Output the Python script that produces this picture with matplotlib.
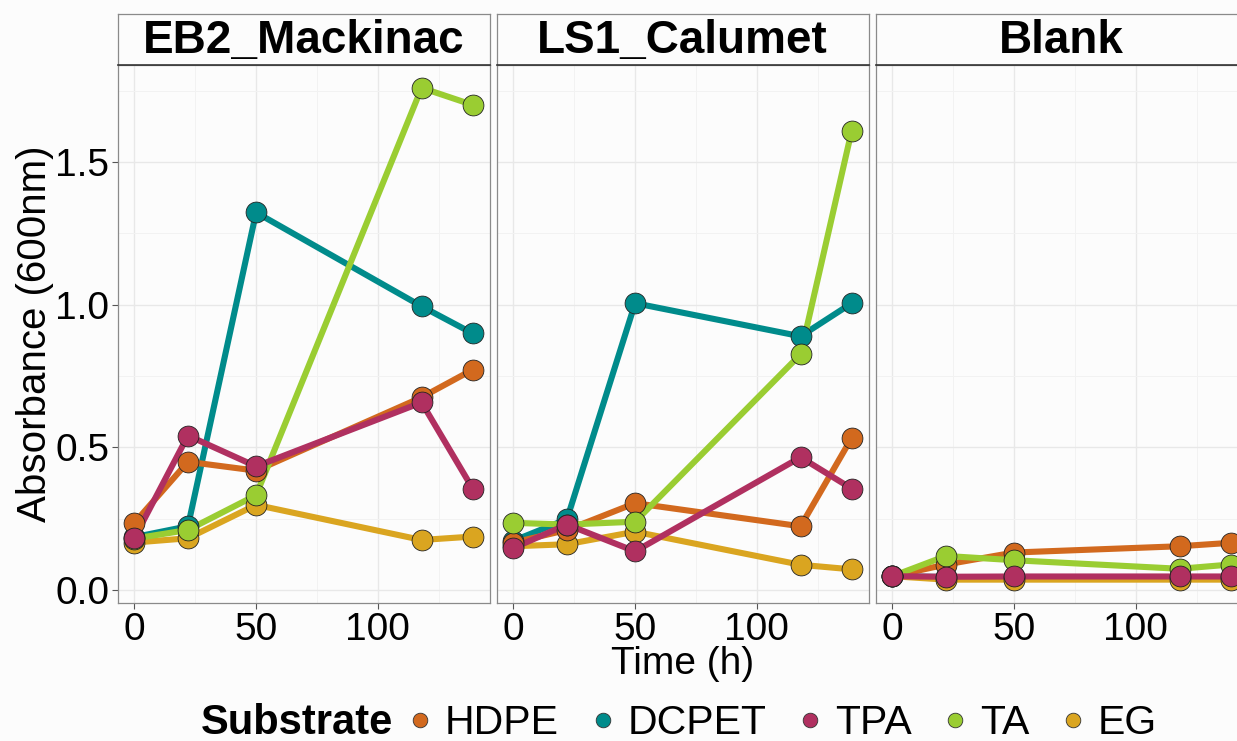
import matplotlib
matplotlib.use("Agg")
import matplotlib.pyplot as plt
from matplotlib.lines import Line2D
from matplotlib.ticker import MultipleLocator

plt.rcParams['font.family'] = ['Liberation Sans', 'DejaVu Sans']

# Data
time_h = [0, 22, 50, 118, 139]
panels = ["EB2_Mackinac", "LS1_Calumet", "Blank"]
substrates = ["HDPE", "DCPET", "TPA", "TA", "EG"]
colors = {"HDPE": "#D2691E", "DCPET": "#008B8B", "TPA": "#B03060",
          "TA": "#9ACD32", "EG": "#DAA520"}

# EB2_Mackinac
eb2_hdpe = [0.235, 0.449, 0.418, 0.675, 0.772]
eb2_dcpet = [0.185, 0.223, 1.323, 0.994, 0.899]
eb2_tpa = [0.182, 0.541, 0.433, 0.657, 0.355]
eb2_ta = [0.180, 0.210, 0.332, 1.760, 1.700]
eb2_eg = [0.166, 0.181, 0.298, 0.175, 0.187]

# LS1_Calumet
ls1_hdpe = [0.166, 0.210, 0.304, 0.223, 0.533]
ls1_dcpet = [0.172, 0.248, 1.005, 0.889, 1.005]
ls1_tpa = [0.147, 0.229, 0.135, 0.465, 0.355]
ls1_ta = [0.235, 0.229, 0.239, 0.826, 1.610]
ls1_eg = [0.153, 0.160, 0.204, 0.088, 0.072]

# Blank
blank_hdpe = [0.048, 0.089, 0.131, 0.153, 0.165]
blank_dcpet = [0.048, 0.045, 0.045, 0.045, 0.045]
blank_tpa = [0.048, 0.046, 0.047, 0.047, 0.047]
blank_ta = [0.048, 0.119, 0.104, 0.074, 0.089]
blank_eg = [0.048, 0.036, 0.036, 0.036, 0.036]

data = {
    "EB2_Mackinac": {"HDPE": eb2_hdpe, "DCPET": eb2_dcpet, "TPA": eb2_tpa, "TA": eb2_ta, "EG": eb2_eg},
    "LS1_Calumet": {"HDPE": ls1_hdpe, "DCPET": ls1_dcpet, "TPA": ls1_tpa, "TA": ls1_ta, "EG": ls1_eg},
    "Blank": {"HDPE": blank_hdpe, "DCPET": blank_dcpet, "TPA": blank_tpa, "TA": blank_ta, "EG": blank_eg},
}

# drawing order (alphabetical, as ggplot draws the groups)
draw_order = sorted(substrates)

W, H = 1237, 741
bg = "#fcfcfc"
fig = plt.figure(figsize=(W / 100, H / 100), dpi=100, facecolor=bg)

lefts = [117.5, 496.5, 875.5]
pw = 372.5
p_top, p_bot = 65, 603.3
s_top = 13.5

for i, (name, left) in enumerate(zip(panels, lefts)):
    ax = fig.add_axes([left / W, 1 - p_bot / H, pw / W, (p_bot - p_top) / H])
    ax.set_facecolor(bg)
    ax.set_xlim(-6.95, 146.1)
    ax.set_ylim(-0.047, 1.84)
    ax.xaxis.set_major_locator(MultipleLocator(50))
    ax.xaxis.set_minor_locator(MultipleLocator(25))
    ax.yaxis.set_major_locator(MultipleLocator(0.5))
    ax.yaxis.set_minor_locator(MultipleLocator(0.25))
    ax.grid(which="major", color="#e8e8e8", lw=1.0)
    ax.grid(which="minor", color="#f2f2f2", lw=0.7)
    ax.set_axisbelow(True)
    for sp in ax.spines.values():
        sp.set_color("#8a8a8a")
        sp.set_linewidth(0.9)
    ax.tick_params(which="minor", length=0)
    ax.tick_params(axis="x", which="major", length=4, color="#555555", labelsize=28, pad=2)
    if i == 0:
        ax.tick_params(axis="y", which="major", length=4, color="#555555", labelsize=28, pad=2)
        ax.yaxis.set_major_formatter(plt.FuncFormatter(lambda v, p: f"{v:.1f}"))
    else:
        ax.tick_params(axis="y", which="major", length=0, labelleft=False)

    for k, sub in enumerate(draw_order):
        ax.plot(time_h, data[name][sub], color=colors[sub], lw=4.4,
                solid_capstyle="butt", zorder=2 + k * 0.01)
    for k, sub in enumerate(draw_order):
        ax.plot(time_h, data[name][sub], ls="", marker="o", ms=15,
                mfc=colors[sub], mec="#222222", mew=0.6, zorder=3 + k * 0.01)

    # facet strip
    sx = fig.add_axes([left / W, 1 - p_top / H, pw / W, (p_top - s_top) / H])
    sx.set_facecolor(bg)
    sx.set_xticks([])
    sx.set_yticks([])
    for sp in sx.spines.values():
        sp.set_color("#8a8a8a")
        sp.set_linewidth(0.9)
    sx.spines["bottom"].set_color("#333333")
    sx.spines["bottom"].set_linewidth(1.2)
    sx.text(0.5, 0.47, name, transform=sx.transAxes, ha="center", va="center",
            fontsize=33, fontweight="bold")

fig.text(35 / W, 1 - 334 / H, "Absorbance (600nm)", rotation=90,
         ha="center", va="center", fontsize=29)
fig.text(683 / W, 1 - 664 / H, "Time (h)", ha="center", va="center", fontsize=28)

# legend
fig.text(393 / W, 1 - 723 / H, "Substrate", ha="right", va="center",
         fontsize=30, fontweight="bold")
handles = [Line2D([], [], ls="", marker="o", ms=10.5, mfc=colors[s],
                  mec="#333333", mew=0.6) for s in substrates]
fig.legend(handles, substrates, loc="center left", bbox_to_anchor=(401 / W, 1 - 723 / H),
           ncol=5, frameon=False, fontsize=29.5, handlelength=0.95, handletextpad=0.12,
           columnspacing=0.6, borderpad=0, borderaxespad=0)

fig.savefig("out.png", dpi=100, facecolor=bg)
